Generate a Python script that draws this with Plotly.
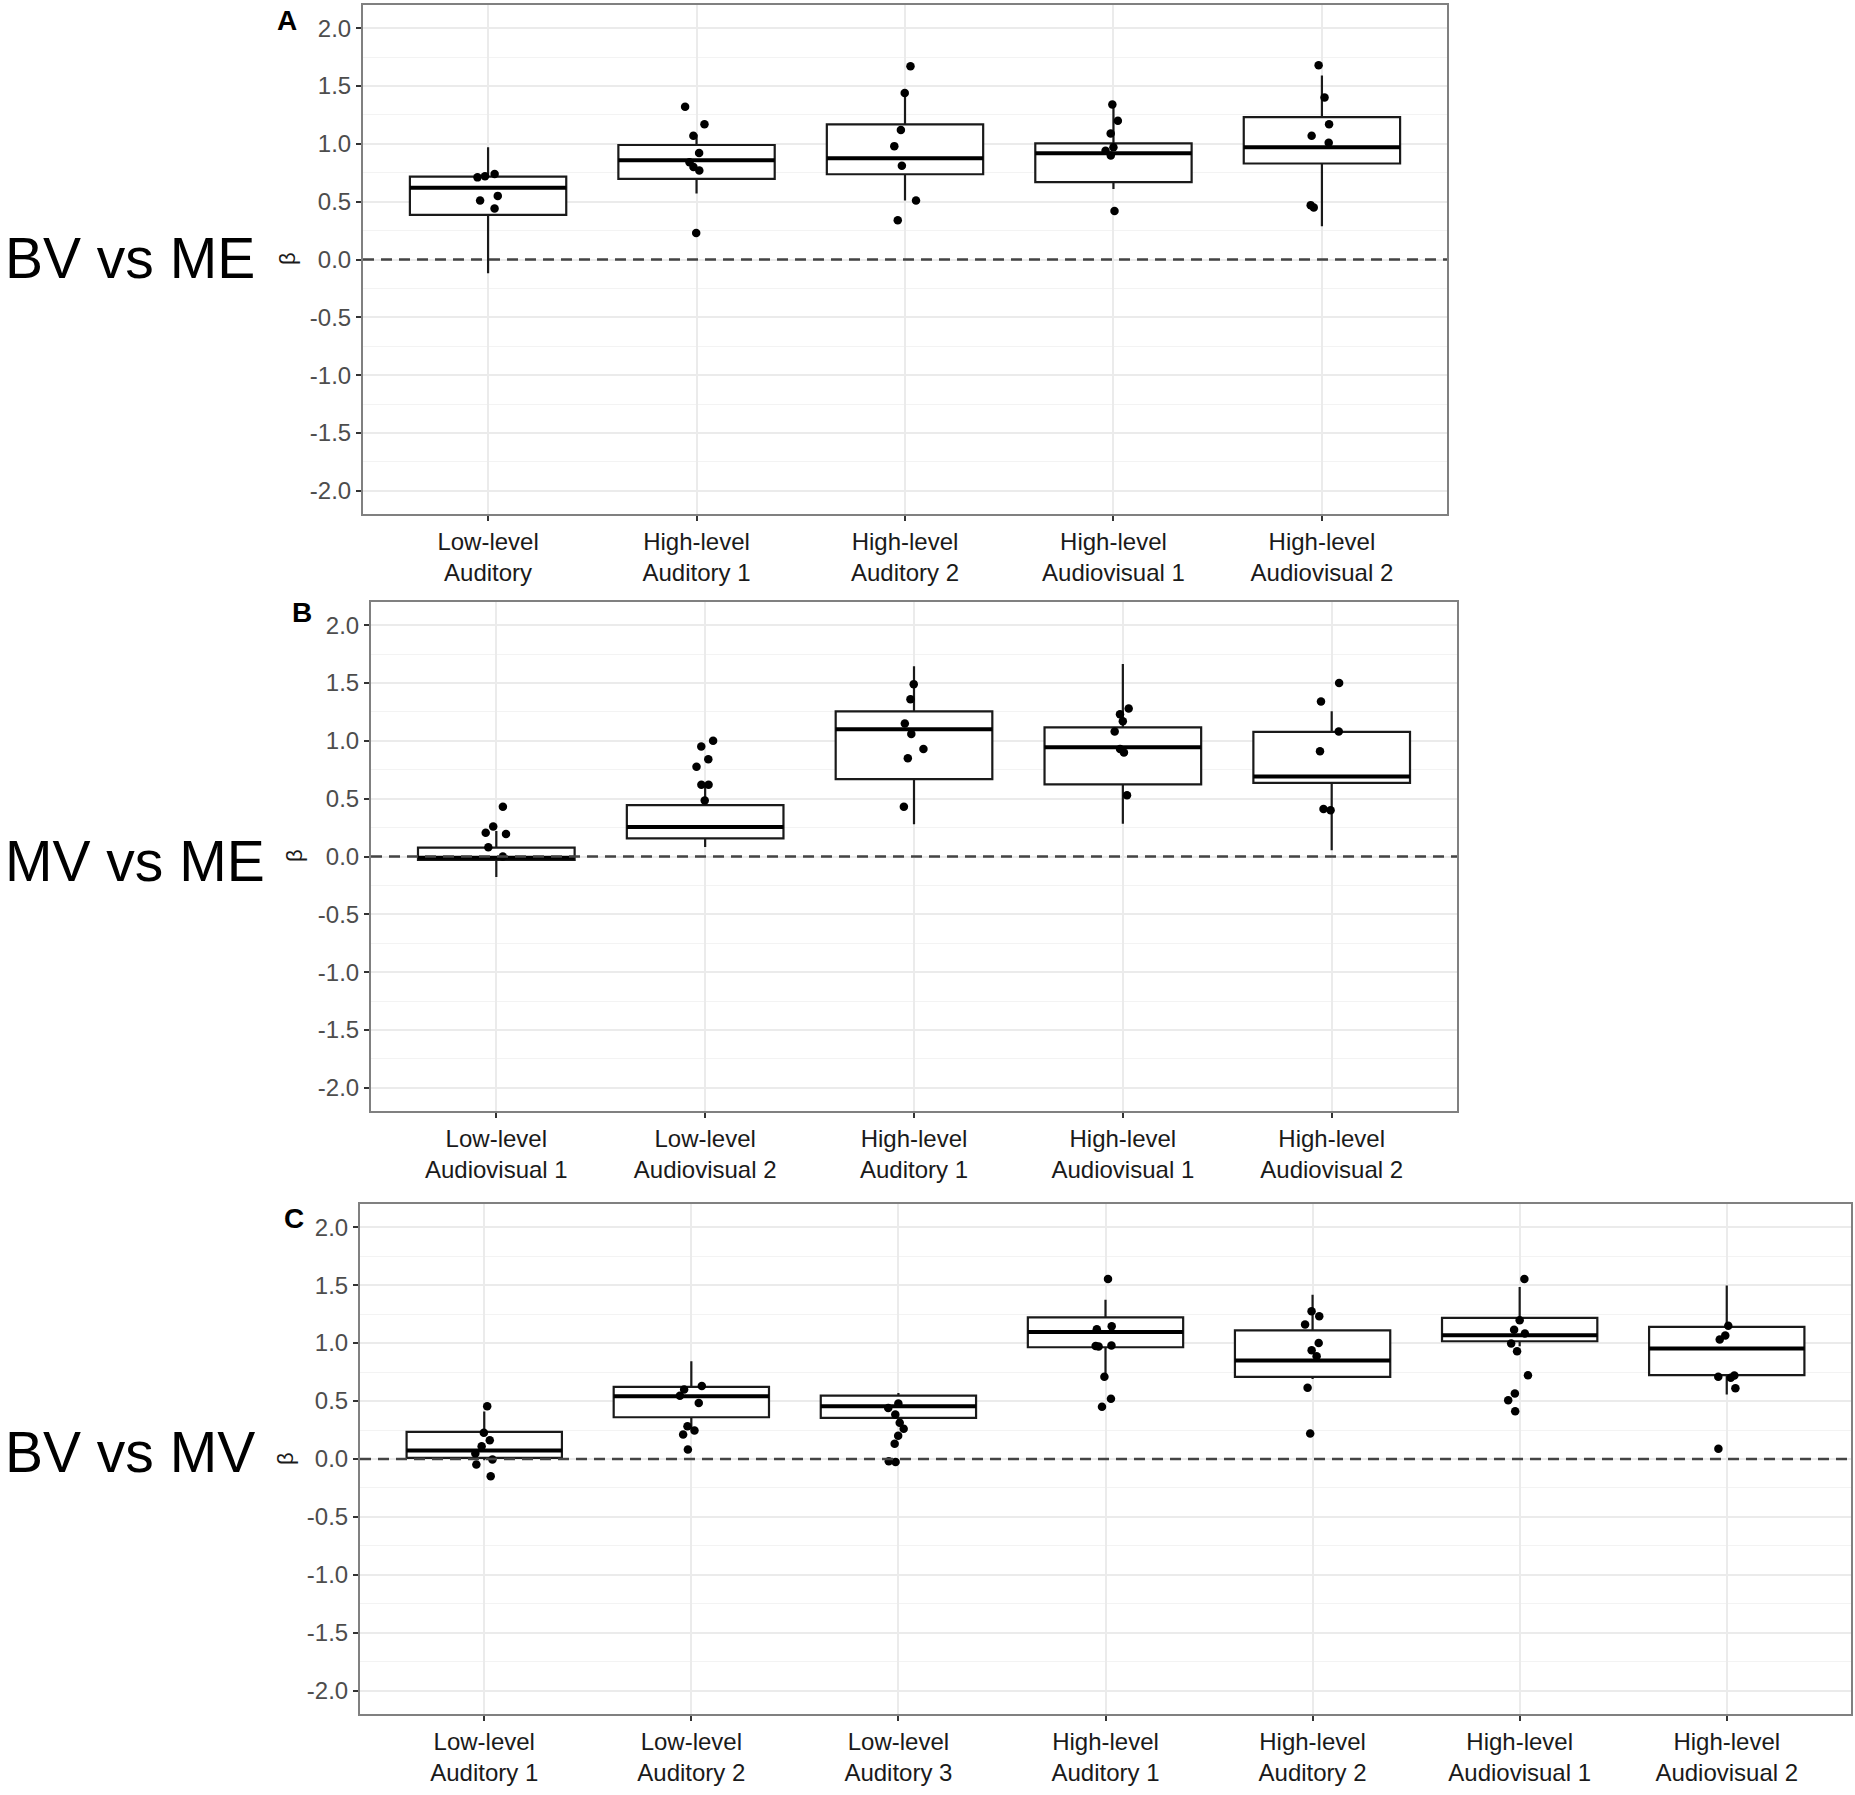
import plotly.graph_objects as go

# ---- data ----
cats_a = ["Low-level Auditory", "High-level Auditory 1", "High-level Auditory 2",
          "High-level Audiovisual 1", "High-level Audiovisual 2"]
labels_a = ["Low-level<br>Auditory", "High-level<br>Auditory 1", "High-level<br>Auditory 2",
            "High-level<br>Audiovisual 1", "High-level<br>Audiovisual 2"]
q1_a = [0.385, 0.697, 0.737, 0.668, 0.83]
med_a = [0.62, 0.858, 0.875, 0.918, 0.97]
q3_a = [0.717, 0.99, 1.168, 1.004, 1.23]
lo_a = [-0.118, 0.57, 0.51, 0.61, 0.287]
hi_a = [0.97, 1.08, 1.426, 1.31, 1.59]
dots_a = [
    [0.71, 0.74, 0.72, 0.55, 0.51, 0.44],
    [1.32, 1.17, 1.07, 0.92, 0.84, 0.80, 0.77, 0.23],
    [1.67, 1.44, 1.12, 0.98, 0.81, 0.51, 0.34],
    [1.34, 1.20, 1.09, 0.97, 0.94, 0.90, 0.42],
    [1.68, 1.40, 1.17, 1.07, 1.01, 0.47, 0.45],
]

cats_b = ["Low-level Audiovisual 1", "Low-level Audiovisual 2", "High-level Auditory 1",
          "High-level Audiovisual 1", "High-level Audiovisual 2"]
labels_b = ["Low-level<br>Audiovisual 1", "Low-level<br>Audiovisual 2", "High-level<br>Auditory 1",
            "High-level<br>Audiovisual 1", "High-level<br>Audiovisual 2"]
q1_b = [-0.03, 0.157, 0.669, 0.623, 0.637]
med_b = [-0.01, 0.255, 1.10, 0.945, 0.692]
q3_b = [0.076, 0.444, 1.255, 1.117, 1.077]
lo_b = [-0.177, 0.082, 0.278, 0.283, 0.053]
hi_b = [0.22, 0.62, 1.644, 1.664, 1.255]
dots_b = [
    [0.43, 0.26, 0.205, 0.195, 0.08, 0.0],
    [1.0, 0.95, 0.84, 0.775, 0.62, 0.62, 0.485],
    [1.49, 1.36, 1.15, 1.06, 0.93, 0.85, 0.43],
    [1.28, 1.23, 1.17, 1.08, 0.93, 0.90, 0.53],
    [1.50, 1.34, 1.08, 0.91, 0.41, 0.40],
]

cats_c = ["Low-level Auditory 1", "Low-level Auditory 2", "Low-level Auditory 3",
          "High-level Auditory 1", "High-level Auditory 2",
          "High-level Audiovisual 1", "High-level Audiovisual 2"]
labels_c = ["Low-level<br>Auditory 1", "Low-level<br>Auditory 2", "Low-level<br>Auditory 3",
            "High-level<br>Auditory 1", "High-level<br>Auditory 2",
            "High-level<br>Audiovisual 1", "High-level<br>Audiovisual 2"]
q1_c = [0.01, 0.36, 0.355, 0.964, 0.709, 1.016, 0.723]
med_c = [0.073, 0.541, 0.455, 1.096, 0.849, 1.067, 0.953]
q3_c = [0.234, 0.622, 0.547, 1.222, 1.11, 1.217, 1.14]
lo_c = [-0.01, 0.254, 0.33, 0.714, 0.69, 0.973, 0.556]
hi_c = [0.41, 0.843, 0.57, 1.375, 1.418, 1.484, 1.496]
dots_c = [
    [0.455, 0.226, 0.162, 0.11, 0.047, -0.005, -0.047, -0.148],
    [0.63, 0.60, 0.545, 0.484, 0.283, 0.246, 0.211, 0.082],
    [0.478, 0.44, 0.384, 0.312, 0.26, 0.20, 0.131, -0.02, -0.025],
    [1.553, 1.145, 1.12, 0.98, 0.975, 0.97, 0.71, 0.519, 0.45],
    [1.274, 1.231, 1.16, 1.0, 0.938, 0.886, 0.614, 0.22],
    [1.553, 1.197, 1.116, 1.082, 0.996, 0.93, 0.723, 0.565, 0.507, 0.412],
    [1.15, 1.065, 1.03, 0.72, 0.71, 0.70, 0.61, 0.088],
]

y_ticks = [2.0, 1.5, 1.0, 0.5, 0.0, -0.5, -1.0, -1.5, -2.0]
row_names = ["BV vs ME", "MV vs ME", "BV vs MV"]
panel_letters = ["A", "B", "C"]

W, H = 1855, 1795
FONT = "Liberation Sans, Arial, Helvetica, sans-serif"


def px_x(p):
    return p / W


def px_y(p):
    return 1 - p / H


# pixel boxes of each panel (left, right, top, bottom)
panels = [
    dict(cats=cats_a, labels=labels_a, q1=q1_a, med=med_a, q3=q3_a, lo=lo_a, hi=hi_a, dots=dots_a,
         box=(363, 1447, 5, 514), letter=(287, 20), beta=(287, 259), name_y=258),
    dict(cats=cats_b, labels=labels_b, q1=q1_b, med=med_b, q3=q3_b, lo=lo_b, hi=hi_b, dots=dots_b,
         box=(371, 1457, 602, 1111), letter=(302, 612), beta=(294, 856), name_y=861),
    dict(cats=cats_c, labels=labels_c, q1=q1_c, med=med_c, q3=q3_c, lo=lo_c, hi=hi_c, dots=dots_c,
         box=(360, 1851, 1204, 1714), letter=(294, 1218), beta=(285, 1459), name_y=1452),
]

fig = go.Figure()
annotations = []
shapes = []

for i, p in enumerate(panels):
    sfx = "" if i == 0 else str(i + 1)
    xa, ya = "x" + sfx, "y" + sfx

    # box from summary stats
    fig.add_trace(go.Box(
        x=p["cats"], q1=p["q1"], median=p["med"], q3=p["q3"],
        lowerfence=p["lo"], upperfence=p["hi"],
        boxpoints=False, width=0.75, whiskerwidth=0,
        line=dict(color="#1a1a1a", width=2.2), fillcolor="white",
        xaxis=xa, yaxis=ya, showlegend=False, hoverinfo="skip",
    ))
    # thicker median bar
    fig.add_trace(go.Box(
        x=p["cats"], q1=p["med"], median=p["med"], q3=p["med"],
        lowerfence=p["med"], upperfence=p["med"],
        boxpoints=False, width=0.75, whiskerwidth=0,
        line=dict(color="black", width=4), fillcolor="rgba(0,0,0,0)",
        xaxis=xa, yaxis=ya, showlegend=False, hoverinfo="skip",
    ))
    # jittered points
    xs, ys = [], []
    for c, vals in zip(p["cats"], p["dots"]):
        xs += [c] * len(vals)
        ys += vals
    fig.add_trace(go.Box(
        x=xs, y=ys, boxpoints="all", jitter=0.16, pointpos=0, width=0.75,
        line=dict(color="rgba(0,0,0,0)", width=0), fillcolor="rgba(0,0,0,0)",
        marker=dict(color="black", size=8.5),
        xaxis=xa, yaxis=ya, showlegend=False, hoverinfo="y",
    ))

    l, r, t, b = p["box"]
    n = len(p["cats"])
    fig.update_layout(**{
        "xaxis" + sfx: dict(
            domain=[px_x(l), px_x(r)], anchor=ya, type="category",
            categoryorder="array", categoryarray=p["cats"],
            tickmode="array", tickvals=p["cats"], ticktext=p["labels"],
            range=[-0.6, n - 0.4],
            showgrid=True, gridcolor="#ebebeb", gridwidth=2,
            showline=True, mirror=True, linecolor="#808080", linewidth=2,
            ticks="outside", ticklen=5, tickwidth=2, tickcolor="#333333",
            tickfont=dict(family=FONT, size=24, color="#1a1a1a"),
            zeroline=False, fixedrange=True,
        ),
        "yaxis" + sfx: dict(
            domain=[px_y(b), px_y(t)], anchor=xa,
            range=[-2.2, 2.2],
            tickmode="array", tickvals=y_ticks, ticktext=[f"{v:.1f}" for v in y_ticks],
            showgrid=True, gridcolor="#ebebeb", gridwidth=2,
            minor=dict(dtick=0.25, tick0=0, showgrid=True, gridcolor="#f3f3f3", gridwidth=1, ticklen=0),
            showline=True, mirror=True, linecolor="#808080", linewidth=2,
            ticks="outside", ticklen=5, tickwidth=2, tickcolor="#333333",
            tickfont=dict(family=FONT, size=24, color="#4d4d4d"),
            zeroline=False, fixedrange=True,
        ),
    })

    # dashed reference line at zero
    shapes.append(dict(
        type="line", xref=xa + " domain", yref=ya, x0=0, x1=1, y0=0, y1=0,
        line=dict(color="#444444", width=2.5, dash="11px,7px"), layer="above",
    ))

    # row name, panel letter, beta axis title
    annotations.append(dict(
        text=row_names[i], x=px_x(3), y=px_y(p["name_y"]), xref="paper", yref="paper",
        xanchor="left", yanchor="middle", showarrow=False,
        font=dict(family=FONT, size=57, color="black"),
    ))
    annotations.append(dict(
        text="<b>" + panel_letters[i] + "</b>", x=px_x(p["letter"][0]), y=px_y(p["letter"][1]),
        xref="paper", yref="paper", xanchor="center", yanchor="middle", showarrow=False,
        font=dict(family=FONT, size=28, color="black"),
    ))
    annotations.append(dict(
        text="β", x=px_x(p["beta"][0]), y=px_y(p["beta"][1]), xref="paper", yref="paper",
        xanchor="center", yanchor="middle", showarrow=False, textangle=-90,
        font=dict(family=FONT, size=22, color="#1a1a1a"),
    ))

fig.update_layout(
    width=W, height=H, autosize=False,
    margin=dict(l=0, r=0, t=0, b=0),
    paper_bgcolor="white", plot_bgcolor="white",
    boxmode="overlay", showlegend=False,
    annotations=annotations, shapes=shapes,
    font=dict(family=FONT),
)

# remove the default page margin so the figure sits at the window's corner
fig.write_html("out.html", config={"displayModeBar": False},
               post_script="document.body.style.margin='0px';")
